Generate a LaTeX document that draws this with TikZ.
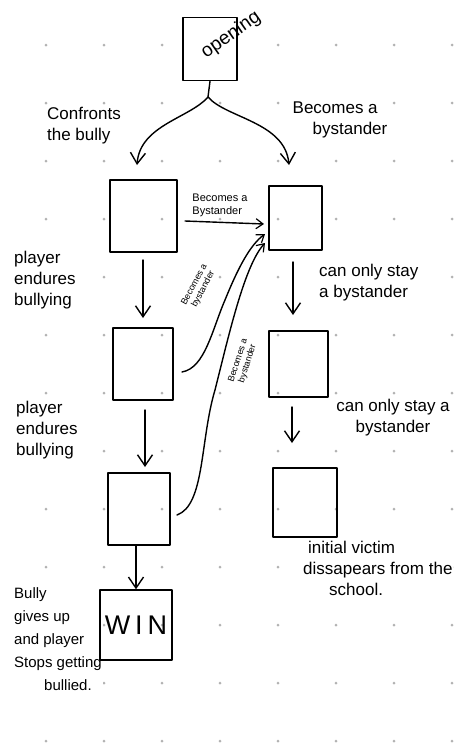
\documentclass[tikz,border=0pt]{standalone}
\usepackage{fontspec}
\setmainfont{Liberation Sans}
\usetikzlibrary{arrows.meta}
\begin{document}
\begin{tikzpicture}[x=1pt,y=-1pt,
  ink/.style={line width=1.4pt, line cap=round, line join=round},
  box/.style={ink, draw, inner sep=0pt},
  arr/.style={ink, -{Straight Barb[length=11pt,width=15pt,line width=1.4pt]}},
  sarr/.style={ink, -{Straight Barb[length=7pt,width=10pt,line width=1.2pt]}},
  lbl/.style={font=\fontsize{17}{21}\selectfont, inner sep=1pt},
  blbl/.style={font=\fontsize{15}{23}\selectfont, inner sep=1pt},
  slbl/.style={font=\fontsize{11}{13}\selectfont, inner sep=1pt},
  tlbl/.style={font=\fontsize{9}{10}\selectfont, inner sep=0pt, align=center},
  griddot/.style={fill=black!30, draw=none}]
\useasboundingbox (0,0) rectangle (461,747);
\fill[white] (0,0) rectangle (461,747);
% dot grid
\foreach \gx in {46,104,162,220,278,336,394,452}{
  \foreach \gy in {45,103,161,219,277,335,393,451,509,567,625,683,741}{
    \path[griddot] (\gx,\gy) circle[radius=1.5pt];
  }
}
% labels
\node[font=\fontsize{19}{22}\selectfont, rotate=35, inner sep=0pt] (openlbl) at (231,35) {opening};
\node[lbl, fill=white, align=left] (conf) at (84,126) {Confronts\\the bully};
\node[lbl, fill=white, align=left] (bys1) at (340,120) {Becomes a\\\hspace*{20pt}bystander};
\node[slbl, fill=white, align=left] (ab) at (220,205) {Becomes a\\Bystander};
\node[lbl, fill=white, align=left, anchor=west] (pe1) at (13,280) {player\\endures\\bullying};
\node[lbl, fill=white, align=left, anchor=west] (cos1) at (318,283) {can only stay\\a bystander};
\node[lbl, fill=white, align=left, anchor=west] (pe2) at (15,430) {player\\endures\\bullying};
\node[lbl, fill=white, align=center] (cos2) at (393,418) {can only stay a\\bystander};
\node[lbl, fill=white, align=left, anchor=north west] (iv) at (302,540) {\hspace*{5pt}initial victim\\dissapears from the\\\hspace*{26pt}school.};
\node[blbl, fill=white, align=left, anchor=north west] (bully) at (13,586) {Bully\\gives up\\and player\\Stops getting\\\hspace*{30pt}bullied.};
\node[tlbl, rotate=62] (clbl) at (199,287) {Becomes a\\bystander};
\node[tlbl, rotate=72] (elbl) at (243,362) {Becomes a\\bystander};
% boxes
\node[box, minimum width=54, minimum height=63] (open) at (210,49) {};
\node[box, minimum width=67, minimum height=72] (A) at (143.5,216) {};
\node[box, minimum width=53, minimum height=64] (B) at (295.5,218) {};
\node[box, minimum width=60, minimum height=72] (C) at (143,364) {};
\node[box, minimum width=59, minimum height=66] (D) at (298.5,364) {};
\node[box, minimum width=62, minimum height=72] (E) at (139,509) {};
\node[box, minimum width=64, minimum height=69] (F) at (305,502.5) {};
\node[box, minimum width=72, minimum height=70, font=\fontsize{27}{30}\selectfont] (win) at (136,625) {W\hspace{5pt}I\hspace{5pt}N};
% connector points
\coordinate (split) at (208,97);
\coordinate (Ain) at (137,165);
\coordinate (Bin) at (289,165);
\coordinate (Aout) at (185,221);
\coordinate (Bin1) at (264,224);
\coordinate (Cout) at (182,372);
\coordinate (Bin2) at (265,234);
\coordinate (Eout) at (177,515);
\coordinate (Bin3) at (265,243);
\coordinate (Adown) at (143,260);
\coordinate (Cin) at (143,318);
\coordinate (Cdown) at (145,410);
\coordinate (Ein) at (145,467);
\coordinate (Bdown) at (293,262);
\coordinate (Din) at (293,315);
\coordinate (Ddown) at (292,407);
\coordinate (Fin) at (292,443);
% connectors
\draw[ink] (open.south) -- (split);
\draw[arr] (split) .. controls (190,118) and (140,125) .. (Ain);
\draw[arr] (split) .. controls (226,118) and (285,122) .. (Bin);
\draw[sarr] (Aout) -- (Bin1);
\draw[sarr] (Cout) .. controls (205,368) and (212,330) .. (225,300) .. controls (238,268) and (250,245) .. (Bin2);
\draw[sarr] (Eout) .. controls (205,505) and (200,440) .. (215,390) .. controls (230,330) and (245,265) .. (Bin3);
\draw[arr] (Adown) -- (Cin);
\draw[arr] (Cdown) -- (Ein);
\draw[arr] (E.south -| win) -- (win.north);
\draw[arr] (Bdown) -- (Din);
\draw[arr] (Ddown) -- (Fin);
\end{tikzpicture}
\end{document}
